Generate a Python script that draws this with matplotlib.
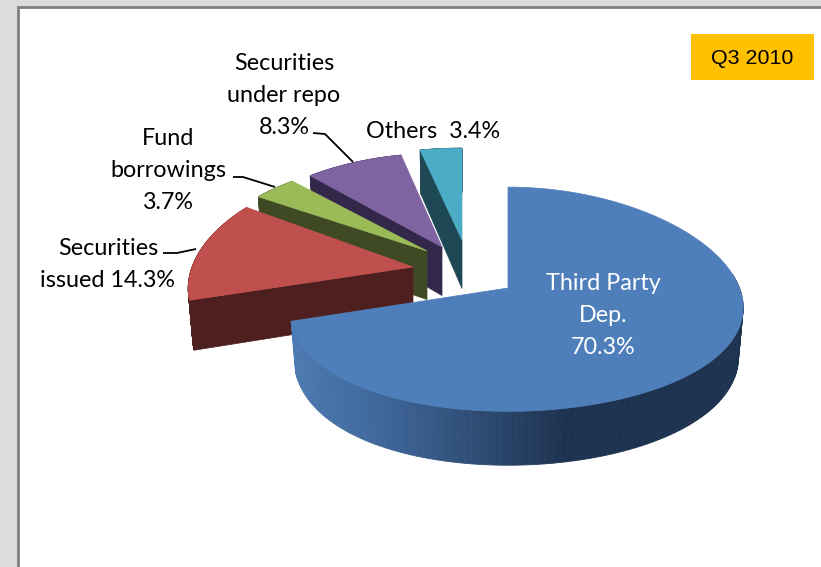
import numpy as np
import matplotlib
matplotlib.use("Agg")
import matplotlib.pyplot as plt
from matplotlib.colors import LinearSegmentedColormap
from matplotlib.patches import Polygon, Rectangle

# Funding mix, clockwise from twelve o'clock
categories = ["Third Party\nDep.", "Securities\nissued", "Fund\nborrowings",
              "Securities\nunder repo", "Others"]
shares = [70.3, 14.3, 3.7, 8.3, 3.4]
period = "Q3 2010"

top_colors = ["#4F7FBB", "#C0504D", "#9BBB59", "#8064A2", "#4BACC6"]
side_colors = ["#2C4A70", "#4D1F1E", "#3F4A24", "#34284A", "#1E4855"]
rim_map = LinearSegmentedColormap.from_list(
    "rim", ["#4C7AB2", "#3F679A", "#2F4E76", "#1E3350", "#1E3350"])

# Pie geometry in pixels, with the explode offset and stretch of each slice
CENTER = (508.0, 288.0)
EXPLODE = [(0, 0), (-95, -21), (-81, -37), (-66, -41), (-46, -48)]
STRETCH_X = [1.0, 1.03, 1.045, 1.025, 1.05]
STRETCH_Y = [1.0, 1.0, 0.91, 0.93, 0.91]
RX, RY, DEPTH = 223.0, 111.0, 48.5


def project(theta, apex, stretch_x, stretch_y):
    """Perspective view of a rim point on the top and bottom disc."""
    x, y = np.sin(theta), np.cos(theta)
    u = stretch_x * RX * x * (1 + 0.038 * x) / (1 + 0.18 * y)
    v = stretch_y * RY * y / (1 + 0.10 * y)
    top = np.column_stack([apex[0] + u, apex[1] - v])
    bottom = np.column_stack([apex[0] + 0.98 * u,
                              apex[1] - v + DEPTH / (1 + 0.10 * y)])
    return top, bottom


fig = plt.figure(figsize=(8.21, 5.67), dpi=100, facecolor="#DCDCDC")
ax = fig.add_axes([0, 0, 1, 1])
ax.set_xlim(0, 821)
ax.set_ylim(567, 0)
ax.axis("off")

# Chart panel
ax.add_patch(Rectangle((18, 6.5), 810, 570, fc="white", ec="#808080", lw=2, zorder=1))

# Slices, back to front
edges = np.concatenate([[0], np.cumsum(shares)]) / np.sum(shares) * 2 * np.pi
for i in range(len(shares) - 1, -1, -1):
    layer = 20 - 3 * i
    apex = (CENTER[0] + EXPLODE[i][0], CENTER[1] + EXPLODE[i][1])
    theta = np.linspace(edges[i], edges[i + 1], 160)
    top, bottom = project(theta, apex, STRETCH_X[i], STRETCH_Y[i])
    apex_bottom = (apex[0], apex[1] + DEPTH)

    # Outer rim
    for j in range(len(theta) - 1):
        if np.cos(theta[j]) > 0.15 and i == 0:
            continue
        colour = side_colors[i]
        if i == 0:
            colour = rim_map(np.clip((top[j, 0] - 291) / 370, 0, 1))
        quad = [top[j], top[j + 1], bottom[j + 1], bottom[j]]
        ax.add_patch(Polygon(quad, closed=True, fc=colour, ec=colour, lw=0.6, zorder=layer))

    # Cut face on the clockwise-leading side
    if i > 0:
        face = [apex, top[0], bottom[0], apex_bottom]
        ax.add_patch(Polygon(face, closed=True, fc=side_colors[i], ec=side_colors[i],
                             lw=0.5, zorder=layer + 1))

    # Top surface
    outline = np.vstack([[apex], top])
    ax.add_patch(Polygon(outline, closed=True, fc=top_colors[i], ec=top_colors[i],
                         lw=0.5, zorder=layer + 2))

# Data labels
label_font = dict(family="Lato", fontsize=16.8, linespacing=1.63,
                  ha="center", va="center", zorder=30)
ax.text(603, 315.5, f"{categories[0]}\n{shares[0]:.1f}%", color="white", **label_font)
ax.text(108, 264.5, f"{categories[1].split(chr(10))[0]}\n"
                    f"{categories[1].split(chr(10))[1]} {shares[1]:.1f}%",
        color="black", **label_font)
ax.text(168, 170.5, f"{categories[2]}\n{shares[2]:.1f}%", color="black", **label_font)
ax.text(284, 95.5, f"{categories[3]}\n{shares[3]:.1f}%", color="black", **label_font)
ax.text(433.5, 131.5, f"{categories[4]}  {shares[4]:.1f}%", color="black", **label_font)

# Leader lines
for xs, ys in [([163, 177, 196], [253, 253, 249]),
               ([233, 243, 275], [177, 177, 187]),
               ([313, 325, 353], [133, 134, 162])]:
    ax.plot(xs, ys, color="black", lw=1.3, zorder=31, solid_capstyle="butt")

# Period badge
ax.add_patch(Rectangle((691, 34), 123, 46, fc="#FFC000", ec="none", zorder=30))
ax.text(752, 58, period, family="Liberation Sans", fontsize=15.4,
        ha="center", va="center", color="black", zorder=31)

fig.savefig("out.png", dpi=100, facecolor=fig.get_facecolor())
